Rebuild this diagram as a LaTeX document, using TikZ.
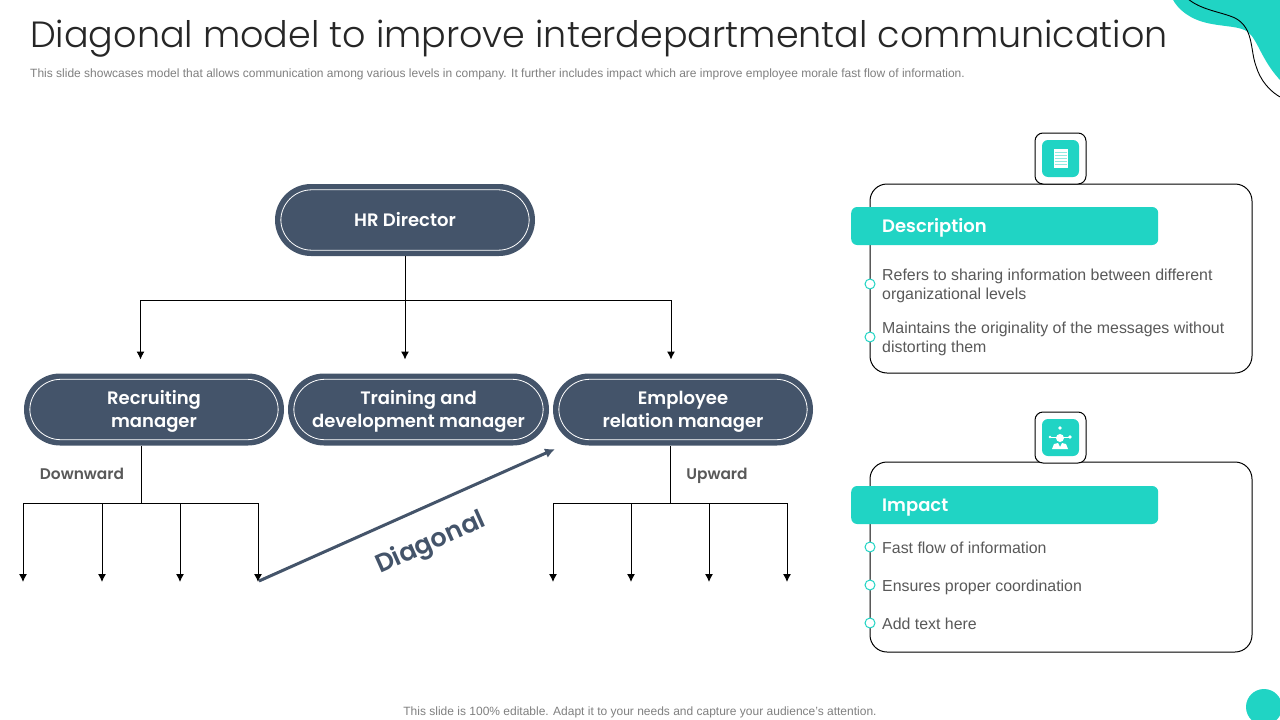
\documentclass[tikz,border=0pt]{standalone}
\usepackage{fontspec}
\setmainfont{Liberation Sans}
\newfontfamily\gothic{Poppins}
\newfontfamily\gothiclight[UprightFont=* Light]{Poppins}
\newfontfamily\gothicsemi[UprightFont=* SemiBold]{Poppins}
\usetikzlibrary{arrows.meta,calc}
\definecolor{slate}{HTML}{44546A}
\definecolor{teal}{HTML}{20D4C4}
\definecolor{txt}{HTML}{595959}
\definecolor{sub}{HTML}{7F7F7F}
\tikzset{
 pillbox/.style={fill=slate,text=white,rounded corners=36pt,minimum width=260pt,minimum height=72pt,inner sep=0pt},
 pilltext/.style={text=white,inner sep=0pt,align=center,font=\gothicsemi\fontsize{18}{23}\selectfont},
 pillin/.style={draw=white,line width=0.8pt,rounded corners=31pt},
 wire/.style={draw=black,line width=1pt},
 arr/.style={wire,-{Latex[length=8pt,width=8pt]}},
 card/.style={draw=black,line width=1pt,rounded corners=17pt,fill=white,minimum width=382pt,inner sep=0pt},
 banner/.style={fill=teal,rounded corners=6pt,minimum width=307pt,minimum height=38pt,inner sep=0pt,anchor=west},
 bantext/.style={text=white,anchor=base west,inner sep=0pt,font=\gothicsemi\fontsize{18}{23}\selectfont},
 dot/.style={circle,draw=teal,fill=white,line width=1pt,minimum size=10pt,inner sep=0pt},
 body/.style={anchor=west,align=left,inner sep=0pt,text=txt,font=\fontsize{15.9}{19}\selectfont},
 bodyline/.style={body,anchor=base west},
 iconframe/.style={draw=black,line width=1pt,fill=white,rounded corners=8pt,minimum size=51pt,inner sep=0pt},
 icontile/.style={fill=teal,rounded corners=6pt,minimum size=37pt,inner sep=0pt},
 lab/.style={text=txt,anchor=base,font=\gothicsemi\fontsize{15.4}{19}\selectfont,inner sep=0pt},
}
\newcommand{\pill}[6]{% name x y w text texty
 \node[pillbox,minimum width=#4pt] (#1) at (#2,#3) {};
 \draw[pillin] ($(#1.south west)+(6,-6)$) rectangle ($(#1.north east)+(-6,6)$);
 \node[pilltext] (#1t) at (#2,#6) {#5};
}
\begin{document}
\begin{tikzpicture}[x=1pt,y=-1pt]
\useasboundingbox (0,0) rectangle (1280,720);
\begin{scope}
\clip (0,0) rectangle (1280,720);
\fill[teal] (1172,-2) .. controls (1178,10) and (1190,19) .. (1207,23) .. controls (1225,27) and (1240,26) .. (1248,32) .. controls (1258,40) and (1262,62) .. (1282,82) -- (1282,-2) -- cycle;
\draw[black,line width=0.9pt] (1187,-2) .. controls (1200,10) and (1222,12) .. (1235,18) .. controls (1254,28) and (1250,50) .. (1256,66) .. controls (1260,80) and (1270,92) .. (1282,98);
\fill[teal] (1264,707) circle (18);
\end{scope}
\node[anchor=base west,inner sep=0pt,font=\gothiclight\fontsize{36.5}{44}\selectfont,text=black!85] (title) at (30,47) {Diagonal model to improve interdepartmental communication};
\node[anchor=west,inner sep=0pt,font=\fontsize{12}{14}\selectfont,text=sub] (subt) at (30,74) {This slide showcases model that allows communication among various levels in company. It further includes impact which are improve employee morale fast flow of information.};
\node[inner sep=0pt,font=\fontsize{12}{14}\selectfont,text=sub] (foot) at (640,712) {This slide is 100\% editable. Adapt it to your needs and capture your audience's attention.};

\pill{hr}{405}{220}{260}{HR Director}{220}
\pill{rec}{154}{409.5}{260}{Recruiting\\manager}{411}
\pill{tra}{418.5}{409.5}{261}{Training and\\development manager}{411}
\pill{emp}{683}{409.5}{260}{Employee\\relation manager}{411.5}

\coordinate (bus) at (405,300);
\coordinate (busl) at (140.5,300);
\coordinate (busr) at (671,300);
\coordinate (a1) at (140.5,359.5);
\coordinate (a2) at (405,359.5);
\coordinate (a3) at (671,359.5);
\draw[wire] (hr.south) -- (bus);
\draw[wire] (busl) -- (busr);
\draw[arr] (busl) -- (a1);
\draw[arr] (bus) -- (a2);
\draw[arr] (busr) -- (a3);

\coordinate (ls) at (141,446);
\coordinate (lb) at (141,503);
\coordinate (l1) at (23,503); \coordinate (l1e) at (23,582);
\coordinate (l2) at (102,503); \coordinate (l2e) at (102,582);
\coordinate (l3) at (180,503); \coordinate (l3e) at (180,582);
\coordinate (l4) at (258,503); \coordinate (l4e) at (258,582);
\draw[wire] (ls) -- (lb);
\draw[wire] (l1) -- (l4);
\foreach \n in {1,2,3,4} \draw[arr] (l\n) -- (l\n e);

\coordinate (rs) at (670,446);
\coordinate (rb) at (670,503);
\coordinate (r1) at (553,503); \coordinate (r1e) at (553,582);
\coordinate (r2) at (631,503); \coordinate (r2e) at (631,582);
\coordinate (r3) at (709,503); \coordinate (r3e) at (709,582);
\coordinate (r4) at (787,503); \coordinate (r4e) at (787,582);
\draw[wire] (rs) -- (rb);
\draw[wire] (r1) -- (r4);
\foreach \n in {1,2,3,4} \draw[arr] (r\n) -- (r\n e);

\node[lab] (down) at (82,479) {Downward};
\node[lab] (up) at (717,479) {Upward};

\coordinate (dgs) at (259,581);
\coordinate (dge) at (555,449);
\draw[slate,line width=3pt,-{Latex[length=10pt,width=10pt]}] (dgs) -- (dge);
\node[rotate=24,text=slate,inner sep=0pt,font=\gothicsemi\fontsize{25.5}{30}\selectfont] (diag) at (431,544) {Diagonal};

% Description card
\node[card,minimum height=189pt] (c1) at (1061,278.5) {};
\node[banner] (b1) at (851,226) {};
\node[bantext] (b1t) at (882,232.5) {Description};
\node[dot] (d1) at (870,284) {};
\node[dot] (d2) at (870,337) {};
\node[body] (t1) at (882,286) {Refers to sharing information between different\\organizational levels};
\node[body] (t2) at (882,339) {Maintains the originality of the messages without\\distorting them};
\node[iconframe] (f1) at (1060.5,158.5) {};
\node[icontile] (i1) at (1060.5,158.5) {};
\fill[white] (1053.5,148.5) rectangle (1067.5,168);
\foreach \yy in {152,155,158,161,164} \draw[teal!50,line width=0.4pt] (1054.5,\yy) -- (1066.5,\yy);

% Impact card
\node[card,minimum height=190pt] (c2) at (1061,557) {};
\node[banner] (b2) at (851,505) {};
\node[bantext] (b2t) at (882,511.5) {Impact};
\node[dot] (d3) at (870,547) {};
\node[dot] (d4) at (870,585) {};
\node[dot] (d5) at (870,623) {};
\node[bodyline] (t3) at (882,553) {Fast flow of information};
\node[bodyline] (t4) at (882,591) {Ensures proper coordination};
\node[bodyline] (t5) at (882,629) {Add text here};
\node[iconframe] (f2) at (1060.5,437.5) {};
\node[icontile] (i2) at (1060.5,437.5) {};
\begin{scope}[white]
\fill (1060,438) circle (4);
\fill (1052,449) -- (1054,444) -- (1058,443) -- (1060,447) -- (1062,443) -- (1066,444) -- (1068,449) -- cycle;
\fill (1060,428) circle (1.8);
\fill (1050,437) circle (1.3);
\fill (1070,437) circle (1.8);
\draw[line width=0.5pt] (1051,437) -- (1069,437);
\end{scope}
\end{tikzpicture}
\end{document}
